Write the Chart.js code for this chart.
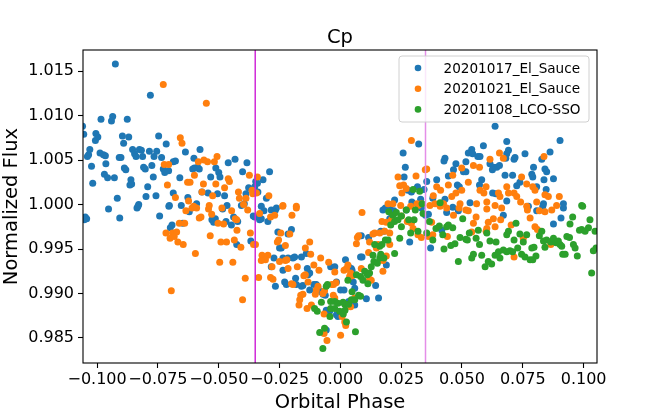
<!DOCTYPE html>
<html>
<head>
<meta charset="utf-8">
<title>Cp</title>
<script src="https://cdn.jsdelivr.net/npm/chart.js@4.4.1/dist/chart.umd.min.js"></script>
<style>
    html, body { margin: 0; padding: 0; background: #ffffff; }
    #wrap { width: 664px; height: 415px; position: relative; }
</style>
</head>
<body>
<div id="wrap"><canvas id="lcChart"></canvas></div>
<script>
// ---- data (orbital phase, normalized flux) ----
const seriesNames = ['20201017_El_Sauce', '20201021_El_Sauce', '20201108_LCO-SSO'];
const seriesColors = ['#1f77b4', '#ff7f0e', '#2ca02c'];

const elSauce1017 = [
    [-0.0925,1.0158],[-0.0781,1.0123],[-0.0984,1.0096],[-0.0936,1.0099],[-0.0941,1.0094],[-0.0876,1.0096],[-0.1060,1.0088],[-0.1055,1.0079],
    [-0.1005,1.0080],[-0.1007,1.0072],[-0.0997,1.0076],[-0.1030,1.0062],[-0.1040,1.0054],[-0.1035,1.0056],[-0.0896,1.0077],[-0.0870,1.0076],
    [-0.0891,1.0069],[-0.0747,1.0077],[-0.0716,1.0068],[-0.0988,1.0058],[-0.0974,1.0056],[-0.0966,1.0055],[-0.0854,1.0062],[-0.0826,1.0062],
    [-0.0818,1.0061],[-0.0785,1.0060],[-0.0755,1.0060],[-0.0766,1.0054],[-0.0846,1.0057],[-0.0840,1.0054],[-0.0813,1.0054],[-0.0909,1.0053],
    [-0.0902,1.0053],[-0.0964,1.0046],[-0.1023,1.0043],[-0.0888,1.0041],[-0.0882,1.0039],[-0.0809,1.0042],[-0.0802,1.0040],[-0.0775,1.0044],
    [-0.0735,1.0053],[-0.0678,1.0049],[-0.0687,1.0048],[-0.0728,1.0040],[-0.0706,1.0038],[-0.0722,1.0036],[-0.0637,1.0059],[-0.0577,1.0062],
    [-0.0602,1.0052],[-0.0600,1.0041],[-0.0587,1.0042],[-0.0580,1.0040],[-0.0607,1.0040],[-0.0512,1.0041],[-0.0500,1.0036],[-0.0495,1.0031],
    [-0.0533,1.0031],[-0.0461,1.0047],[-0.0433,1.0051],[-0.0384,1.0047],[-0.0402,1.0037],[-0.1018,1.0024],[-0.0970,1.0034],[-0.0957,1.0030],
    [-0.0929,1.0030],[-0.0861,1.0028],[-0.0858,1.0023],[-0.0865,1.0022],[-0.0769,1.0031],[-0.0660,1.0030],[-0.0917,1.0007],[-0.0792,1.0020],
    [-0.0799,1.0009],[-0.0758,1.0010],[-0.0687,1.0013],[-0.0627,1.0008],[-0.0569,1.0014],[-0.0544,1.0013],[-0.0505,1.0012],[-0.0476,1.0010],
    [-0.0377,1.0019],[-0.0388,1.0012],[-0.0829,1.0000],[-0.0703,0.9999],[-0.0591,1.0001],[-0.0395,1.0001],
    [-0.1049,0.9986],[-0.1043,0.9984],[-0.1053,0.9983],[-0.0953,0.9995],[-0.0907,0.9985],[-0.0836,0.9996],[-0.0832,0.9998],[-0.0743,0.9987],
    [-0.0705,0.9998],[-0.0654,0.9999],[-0.0621,0.9992],[-0.0699,0.9974],[-0.0692,0.9977],[-0.0648,0.9979],[-0.0528,0.9983],[-0.0521,0.9980],
    [-0.0514,0.9984],[-0.0470,0.9981],[-0.0448,0.9977],[-0.0439,0.9986],[-0.0422,0.9981],[-0.0484,0.9995],[-0.0466,0.9999],[-0.0426,0.9955],
    [-0.0368,0.9959],[-0.0358,0.9987],[-0.0407,0.9999],
    [-0.0291,1.0037],[-0.0318,1.0028],[-0.0348,1.0026],[-0.0341,1.0024],[-0.0352,1.0020],[-0.0339,1.0014],[-0.0304,1.0007],[-0.0325,0.9998],
    [0.0258,1.0058],[0.0267,1.0042],[0.0262,1.0031],[0.0322,1.0068],[0.0278,1.0016],[0.0292,1.0014],[0.0317,1.0020],[0.0344,1.0017],
    [0.0223,1.0005],[0.0294,1.0003],[0.0330,1.0006],
    [-0.0314,0.9993],[-0.0284,0.9994],[-0.0267,0.9994],[-0.0263,0.9996],[-0.0332,0.9983],[-0.0325,0.9984],[-0.0298,0.9981],[-0.0352,0.9986],
    [-0.0257,0.9969],[-0.0201,0.9972],[-0.0215,0.9967],[-0.0250,0.9951],[-0.0243,0.9951],[-0.0284,0.9930],[-0.0273,0.9940],[-0.0236,0.9940],
    [-0.0215,0.9940],[-0.0195,0.9940],[-0.0188,0.9941],[-0.0160,0.9941],[-0.0236,0.9926],[-0.0267,0.9908],[-0.0229,0.9913],[-0.0222,0.9910],
    [-0.0181,0.9910],[-0.0160,0.9908],[-0.0154,0.9909],[-0.0184,0.9917],[-0.0136,0.9928],[-0.0126,0.9923],[-0.0133,0.9921],[-0.0109,0.9910],
    [-0.0099,0.9910],[-0.0092,0.9906],[-0.0126,0.9904],[-0.0078,0.9902],[-0.0071,0.9899],[-0.0062,0.9898],[-0.0040,0.9930],[-0.0023,0.9930],
    [-0.0016,0.9913],[0.0001,0.9904],[0.0015,0.9904],[0.0021,0.9938],[0.0034,0.9930],[0.0045,0.9928],[0.0048,0.9926],[0.0053,0.9913],
    [0.0059,0.9906],[0.0034,0.9891],[0.0035,0.9886],[-0.0058,0.9881],[-0.0044,0.9880],[-0.0016,0.9876],[-0.0010,0.9874],[-0.0058,0.9859],
    [0.0059,0.9887],[0.0083,0.9941],[0.0089,0.9941],[0.0086,0.9965],[0.0116,0.9963],[0.0107,0.9894],[0.0145,0.9909],[0.0157,0.9895],
    [0.0189,0.9932],[0.0166,0.9970],[0.0179,0.9970],[0.0175,0.9994],[0.0185,0.9996],[0.0203,0.9996],[0.0220,0.9993],[0.0212,0.9986],
    [0.0203,0.9984],[0.0271,0.9994],[0.0285,0.9958],[0.0333,0.9996],[0.0350,0.9988],[-0.0140,0.9945],
    [0.0636,1.0088],[0.0903,1.0072],[0.0684,1.0071],[0.0588,1.0066],[0.0540,1.0062],[0.0526,1.0058],[0.0544,1.0057],[0.0430,1.0052],
    [0.0426,1.0049],[0.0565,1.0054],[0.0574,1.0054],[0.0691,1.0061],[0.0684,1.0057],[0.0680,1.0052],[0.0718,1.0053],[0.0714,1.0051],
    [0.0759,1.0057],[0.0862,1.0059],[0.0828,1.0051],[0.0516,1.0048],[0.0475,1.0046],[0.0615,1.0046],[0.0643,1.0042],[0.0654,1.0044],
    [0.0629,1.0042],[0.0625,1.0039],[0.0465,1.0039],[0.0506,1.0037],[0.0516,1.0037],[0.0444,1.0032],[0.0396,1.0028],[0.0355,1.0026],
    [0.0794,1.0042],[0.0841,1.0040],[0.0848,1.0037],[0.0677,1.0033],[0.0708,1.0033],[0.0787,1.0034],[0.0791,1.0031],[0.0876,1.0029],
    [0.0837,1.0028],[0.0738,1.0025],[0.0725,1.0021],[0.0481,1.0022],[0.0489,1.0020],[0.0581,1.0028],[0.0572,1.0022],[0.0626,1.0013],
    [0.0639,1.0012],[0.0807,1.0020],[0.0846,1.0017],[0.0380,1.0007],[0.0430,1.0006],[0.0684,1.0004],[0.0773,0.9998],[0.0835,1.0001],
    [0.0917,1.0001],[0.0533,1.0002],
    [0.0362,0.9989],[0.0437,0.9991],[0.0462,0.9997],[0.0417,0.9971],[0.0371,0.9951],[0.0485,0.9993],[0.0670,0.9988],[0.0807,0.9993],
    [0.0832,0.9998],[0.0917,0.9996],[0.0876,0.9978],[0.0907,0.9985]
];

const elSauce1021 = [
    [-0.0728,1.0135],[-0.0551,1.0114],[-0.0658,1.0075],[-0.0651,1.0069],[-0.0584,1.0048],[-0.0546,1.0048],[-0.0561,1.0050],[-0.0507,1.0054],
    [-0.0518,1.0048],[-0.0724,1.0045],[-0.0706,1.0045],[-0.0600,1.0033],[-0.0628,1.0025],[-0.0618,1.0025],[-0.0711,1.0022],[-0.0563,1.0023],
    [-0.0512,1.0023],[-0.0461,1.0029],[-0.0456,1.0026],[-0.0374,1.0033],[-0.0476,1.0019],[-0.0419,1.0014],[-0.0569,1.0014],[-0.0525,1.0010],
    [-0.0678,1.0008],[-0.0624,1.0004],[-0.0415,1.0007],[-0.0388,1.0007],[-0.0398,1.0000],[-0.0363,1.0016],[-0.0360,1.0012],
    [-0.0635,0.9993],[-0.0610,0.9996],[-0.0591,0.9996],[-0.0603,0.9998],[-0.0580,0.9985],[-0.0573,0.9986],[-0.0542,0.9995],[-0.0529,0.9989],
    [-0.0539,0.9999],[-0.0662,0.9979],[-0.0640,0.9979],[-0.0717,0.9968],[-0.0690,0.9968],[-0.0673,0.9969],[-0.0700,0.9962],[-0.0683,0.9964],
    [-0.0668,0.9958],[-0.0646,0.9955],[-0.0596,0.9945],[-0.0535,0.9965],[-0.0503,0.9979],[-0.0480,0.9978],[-0.0487,0.9996],[-0.0447,0.9993],
    [-0.0432,0.9984],[-0.0426,0.9983],[-0.0425,0.9971],[-0.0491,0.9958],[-0.0468,0.9958],[-0.0436,0.9960],[-0.0409,0.9952],[-0.0496,0.9935],
    [-0.0442,0.9935],[-0.0391,0.9917],[-0.0695,0.9903],[-0.0402,0.9893],[-0.0381,0.9994],[-0.0370,0.9968],[-0.0357,0.9955],
    [-0.0341,1.0031],[-0.0345,1.0013],[-0.0294,1.0010],[-0.0236,0.9999],[-0.0181,0.9998],[0.0292,1.0072],[0.0237,1.0031],[0.0311,1.0032],
    [0.0349,1.0039],[0.0244,1.0021],[0.0260,1.0022],[0.0253,1.0013],[0.0271,1.0018],[0.0196,1.0001],[0.0216,1.0001],[0.0315,1.0001],
    [0.0333,1.0001],
    [-0.0332,0.9990],[-0.0287,0.9986],[-0.0270,0.9988],[-0.0237,0.9998],[-0.0199,0.9988],[-0.0181,0.9996],[-0.0349,0.9955],[-0.0322,0.9943],
    [-0.0298,0.9943],[-0.0308,0.9938],[-0.0325,0.9937],[-0.0336,0.9918],[-0.0281,0.9930],[-0.0287,0.9918],[-0.0277,0.9916],[-0.0259,0.9958],
    [-0.0254,0.9960],[-0.0245,0.9968],[-0.0226,0.9954],[-0.0208,0.9967],[-0.0250,0.9936],[-0.0226,0.9937],[-0.0220,0.9938],[-0.0215,0.9928],
    [-0.0177,0.9930],[-0.0201,0.9911],[-0.0195,0.9910],[-0.0144,0.9951],[-0.0126,0.9958],[-0.0122,0.9944],[-0.0144,0.9921],[-0.0150,0.9920],
    [-0.0133,0.9913],[-0.0109,0.9932],[-0.0081,0.9940],[-0.0088,0.9926],[-0.0154,0.9899],[-0.0167,0.9893],[-0.0170,0.9887],[-0.0137,0.9883],
    [-0.0119,0.9887],[-0.0099,0.9904],[-0.0092,0.9908],[-0.0103,0.9899],[-0.0072,0.9900],[-0.0065,0.9903],[-0.0048,0.9935],[-0.0023,0.9924],
    [-0.0028,0.9910],[-0.0035,0.9910],[-0.0018,0.9912],[-0.0029,0.9898],[-0.0023,0.9895],[-0.0067,0.9877],[-0.0067,0.9855],[-0.0055,0.9847],
    [0.0001,0.9853],[0.0007,0.9874],[0.0018,0.9868],[0.0022,0.9864],[0.0015,0.9926],[0.0025,0.9928],[0.0031,0.9932],[0.0042,0.9923],
    [0.0048,0.9920],[0.0038,0.9919],[0.0042,0.9885],[0.0059,0.9895],[0.0086,0.9928],[0.0066,0.9956],[0.0070,0.9963],[0.0075,0.9965],
    [0.0089,0.9991],[0.0120,0.9958],[0.0134,0.9967],[0.0116,0.9946],[0.0127,0.9915],[0.0120,0.9916],[0.0141,0.9968],[0.0162,0.9968],
    [0.0182,0.9970],[0.0203,0.9968],[0.0148,0.9951],[0.0155,0.9955],[0.0169,0.9941],[0.0189,0.9942],[0.0175,0.9937],[0.0175,0.9925],
    [0.0171,0.9981],[0.0189,0.9980],[0.0210,0.9983],[0.0203,0.9955],[0.0251,0.9987],[0.0275,0.9981],[0.0292,0.9979],[0.0299,0.9973],
    [0.0319,0.9966],[0.0333,0.9963],[0.0248,0.9999],[0.0289,0.9998],[0.0319,0.9999],[-0.0163,0.9898],
    [0.0355,1.0040],[0.0837,1.0054],[0.0499,1.0041],[0.0547,1.0044],[0.0572,1.0042],[0.0615,1.0051],[0.0654,1.0058],[0.0670,1.0052],
    [0.0745,1.0031],[0.0396,1.0020],[0.0412,1.0016],[0.0382,1.0010],[0.0462,1.0033],[0.0444,1.0022],[0.0499,1.0016],[0.0475,1.0013],
    [0.0458,1.0009],[0.0526,1.0025],[0.0574,1.0016],[0.0599,1.0020],[0.0590,1.0013],[0.0650,1.0013],[0.0656,1.0009],[0.0684,1.0020],
    [0.0691,1.0013],[0.0714,1.0013],[0.0725,1.0009],[0.0741,1.0003],[0.0766,1.0023],[0.0791,1.0020],[0.0800,1.0016],[0.0841,1.0011],
    [0.0855,1.0009],[0.0900,1.0009],[0.0807,1.0003],[0.0492,1.0001],[0.0560,1.0001],[0.0602,1.0003],[0.0636,0.9999],[0.0389,1.0001],
    [0.0424,1.0001],
    [0.0368,0.9999],[0.0410,0.9998],[0.0437,0.9996],[0.0488,0.9996],[0.0516,0.9994],[0.0526,0.9993],[0.0465,0.9988],[0.0375,0.9980],
    [0.0380,0.9966],[0.0362,0.9964],[0.0440,0.9964],[0.0547,0.9979],[0.0540,0.9969],[0.0558,0.9986],[0.0602,0.9995],[0.0608,0.9980],
    [0.0636,0.9975],[0.0629,0.9984],[0.0659,0.9983],[0.0602,0.9973],[0.0599,0.9970],[0.0663,0.9996],[0.0702,0.9977],[0.0766,0.9998],
    [0.0769,0.9994],[0.0780,0.9985],[0.0800,0.9975],[0.0810,0.9972],[0.0818,0.9993],[0.0841,0.9992],[0.0869,0.9994],[0.0889,0.9999],
    [0.0752,0.9962],[0.0714,0.9941],[0.0865,0.9955]
];

const lcoSso1108 = [
    [0.0299,1.0017],[0.0326,1.0015],[0.0336,1.0001],
    [-0.0058,0.9908],[-0.0053,0.9910],[-0.0040,0.9891],[-0.0023,0.9891],[-0.0010,0.9889],[0.0011,0.9890],[0.0018,0.9888],[0.0034,0.9888],
    [0.0045,0.9893],[0.0059,0.9893],[-0.0078,0.9890],[-0.0106,0.9883],[-0.0095,0.9880],[-0.0040,0.9883],[-0.0023,0.9883],[-0.0003,0.9880],
    [0.0019,0.9881],[0.0012,0.9877],[-0.0043,0.9874],[0.0025,0.9868],[-0.0085,0.9856],[-0.0065,0.9861],[-0.0072,0.9838],[0.0062,0.9857],
    [0.0031,0.9915],[0.0048,0.9902],[0.0066,0.9921],[0.0083,0.9919],[0.0093,0.9915],[0.0100,0.9925],[0.0111,0.9921],[0.0120,0.9923],
    [0.0113,0.9911],[0.0075,0.9898],[0.0083,0.9897],[0.0127,0.9930],[0.0138,0.9936],[0.0152,0.9934],[0.0162,0.9940],[0.0134,0.9943],
    [0.0166,0.9944],[0.0179,0.9940],[0.0141,0.9955],[0.0162,0.9953],[0.0171,0.9955],[0.0185,0.9960],[0.0196,0.9960],[0.0223,0.9945],
    [0.0244,0.9962],[0.0207,0.9977],[0.0223,0.9981],[0.0237,0.9983],[0.0251,0.9975],[0.0199,0.9992],[0.0216,0.9988],[0.0230,0.9991],
    [0.0251,0.9987],[0.0271,0.9994],[0.0281,0.9983],[0.0303,0.9983],[0.0308,0.9994],[0.0319,0.9970],[0.0289,0.9968],[0.0340,0.9990],
    [0.0410,1.0002],[0.0992,0.9999],
    [0.0366,0.9981],[0.0355,0.9968],[0.0380,0.9960],[0.0393,0.9973],[0.0407,0.9976],[0.0421,0.9966],[0.0426,0.9950],[0.0444,0.9977],
    [0.0462,0.9974],[0.0437,0.9975],[0.0454,0.9954],[0.0471,0.9956],[0.0485,0.9936],[0.0492,0.9963],[0.0503,0.9984],[0.0516,0.9961],
    [0.0522,0.9960],[0.0530,0.9968],[0.0558,0.9962],[0.0572,0.9955],[0.0567,0.9971],[0.0581,0.9943],[0.0602,0.9968],[0.0540,0.9940],
    [0.0547,0.9944],[0.0595,0.9930],[0.0608,0.9936],[0.0622,0.9933],[0.0615,0.9959],[0.0640,0.9958],[0.0636,0.9943],[0.0650,0.9947],
    [0.0656,0.9940],[0.0670,0.9949],[0.0684,0.9947],[0.0697,0.9948],[0.0708,0.9947],[0.0691,0.9970],[0.0684,0.9966],[0.0722,0.9979],
    [0.0738,0.9967],[0.0752,0.9958],[0.0766,0.9966],[0.0714,0.9960],[0.0729,0.9951],[0.0745,0.9944],[0.0759,0.9941],[0.0780,0.9938],
    [0.0791,0.9938],[0.0804,0.9942],[0.0787,0.9951],[0.0796,0.9952],[0.0818,0.9965],[0.0828,0.9970],[0.0835,0.9959],[0.0848,0.9960],
    [0.0841,0.9952],[0.0865,0.9958],[0.0876,0.9962],[0.0887,0.9957],[0.0896,0.9959],[0.0903,0.9955],[0.0910,0.9953],[0.0914,0.9944],
    [0.0924,0.9944],[0.0931,0.9964],[0.0942,0.9963],[0.0955,0.9986],[0.0944,0.9978],[0.0958,0.9955],[0.0965,0.9951],[0.0974,0.9942],
    [0.0983,0.9971],[0.0992,0.9972],[0.1006,0.9970],[0.1020,0.9974],[0.1026,0.9983],[0.1040,0.9948],[0.1051,0.9951],[0.1033,0.9923],
    [0.1047,0.9970],[0.0996,0.9998]
];

// transit ingress / egress markers
const transitEdges = [-0.035, 0.035];
const edgeColors = ['#d02ad8', '#e48ee8'];

// axes
const xRange = [-0.1058, 0.1055];
const yRange = [0.98218, 1.01738];
const xTicks = [-0.100, -0.075, -0.050, -0.025, 0.000, 0.025, 0.050, 0.075, 0.100];
const yTicks = [0.985, 0.990, 0.995, 1.000, 1.005, 1.010, 1.015];

document.addEventListener('DOMContentLoaded', () => {

    const FONT = "'DejaVu Sans', sans-serif";
    const toPts = arr => arr.map(p => ({ x: p[0], y: p[1] }));
    const fmt = v => {
        const s = Math.abs(v) < 1e-9 ? '0.000' : v.toFixed(3);
        return s.replace('-', '\u2212');
    };

    // =============================================
    // DATASETS
    // =============================================
    const scatterSets = [elSauce1017, elSauce1021, lcoSso1108].map((arr, i) => ({
        label: seriesNames[i],
        data: toPts(arr),
        backgroundColor: seriesColors[i],
        borderWidth: 0,
        pointRadius: 3.5,
        pointHoverRadius: 3.5,
        order: 3 - i,
    }));

    const edgeSets = transitEdges.map((x, i) => ({
        label: '_edge' + i,
        type: 'line',
        data: [{ x: x, y: yRange[0] }, { x: x, y: yRange[1] }],
        borderColor: edgeColors[i],
        borderWidth: 1.5,
        pointRadius: 0,
        showLine: true,
        order: 0,
    }));

    // =============================================
    // PLUGINS: frame, texts, legend
    // =============================================
    const framePlugin = {
        id: 'frame',
        afterDatasetsDraw(chart) {
            const { ctx, chartArea: a } = chart;
            ctx.save();
            ctx.strokeStyle = '#000000';
            ctx.lineWidth = 1.1;
            ctx.strokeRect(a.left, a.top, a.right - a.left, a.bottom - a.top);
            ctx.restore();
        }
    };

    const textPlugin = {
        id: 'texts',
        afterDraw(chart) {
            const { ctx, chartArea: a } = chart;
            const cx = (a.left + a.right) / 2;
            ctx.save();
            ctx.fillStyle = '#000000';
            ctx.textAlign = 'center';
            ctx.textBaseline = 'alphabetic';
            ctx.font = `19.5px ${FONT}`;
            ctx.fillText('Cp', cx, a.top - 7);
            ctx.fillText('Orbital Phase', cx, 408);
            ctx.translate(17, (a.top + a.bottom) / 2);
            ctx.rotate(-Math.PI / 2);
            ctx.fillText('Normalized Flux', 0, 0);
            ctx.restore();
        }
    };

    const legendPlugin = {
        id: 'boxLegend',
        afterDraw(chart) {
            const { ctx, chartArea: a } = chart;
            ctx.save();
            ctx.font = `13.6px ${FONT}`;
            const textW = Math.max(...seriesNames.map(n => ctx.measureText(n).width));
            const right = a.right - 8;
            const left = right - (textW + 9 + 25 + 19);
            const top = a.top + 6;
            const h = 66;
            ctx.beginPath();
            ctx.roundRect(left, top, right - left, h, 3);
            ctx.fillStyle = 'rgba(255,255,255,0.8)';
            ctx.fill();
            ctx.strokeStyle = '#d0d0d0';
            ctx.lineWidth = 1;
            ctx.stroke();
            ctx.textAlign = 'left';
            ctx.textBaseline = 'middle';
            seriesNames.forEach((name, i) => {
                const y = top + 12 + i * 20.7;
                ctx.beginPath();
                ctx.arc(left + 19, y, 3.3, 0, Math.PI * 2);
                ctx.fillStyle = seriesColors[i];
                ctx.fill();
                ctx.fillStyle = '#000000';
                ctx.fillText(name, left + 44.5, y + 1);
            });
            ctx.restore();
        }
    };

    // =============================================
    // CHART
    // =============================================
    const tickFont = { family: FONT, size: 16 };

    new Chart(document.getElementById('lcChart'), {
        type: 'scatter',
        data: { datasets: [...scatterSets, ...edgeSets] },
        options: {
            responsive: true,
            maintainAspectRatio: false,
            animation: false,
            layout: { padding: { top: 50, right: 67, left: 0, bottom: 0 } },
            scales: {
                x: {
                    type: 'linear',
                    min: xRange[0],
                    max: xRange[1],
                    afterFit: s => { s.height = 52; },
                    afterBuildTicks: s => { s.ticks = xTicks.map(v => ({ value: v })); },
                    grid: { drawOnChartArea: false, drawTicks: true, tickLength: 5, tickColor: '#000000', tickWidth: 1.1 },
                    border: { display: false },
                    ticks: {
                        color: '#000000',
                        font: tickFont,
                        padding: 2,
                        autoSkip: false,
                        maxRotation: 0,
                        minRotation: 0,
                        callback: v => fmt(v),
                    },
                },
                y: {
                    type: 'linear',
                    min: yRange[0],
                    max: yRange[1],
                    afterFit: s => { s.width = 83; },
                    afterBuildTicks: s => { s.ticks = yTicks.map(v => ({ value: v })); },
                    grid: { drawOnChartArea: false, drawTicks: true, tickLength: 5, tickColor: '#000000', tickWidth: 1.1 },
                    border: { display: false },
                    ticks: {
                        color: '#000000',
                        font: tickFont,
                        padding: 4,
                        callback: v => fmt(v),
                    },
                },
            },
            plugins: {
                legend: { display: false },
                title: { display: false },
                tooltip: { enabled: false },
            },
        },
        plugins: [framePlugin, textPlugin, legendPlugin],
    });
});
</script>
</body>
</html>
